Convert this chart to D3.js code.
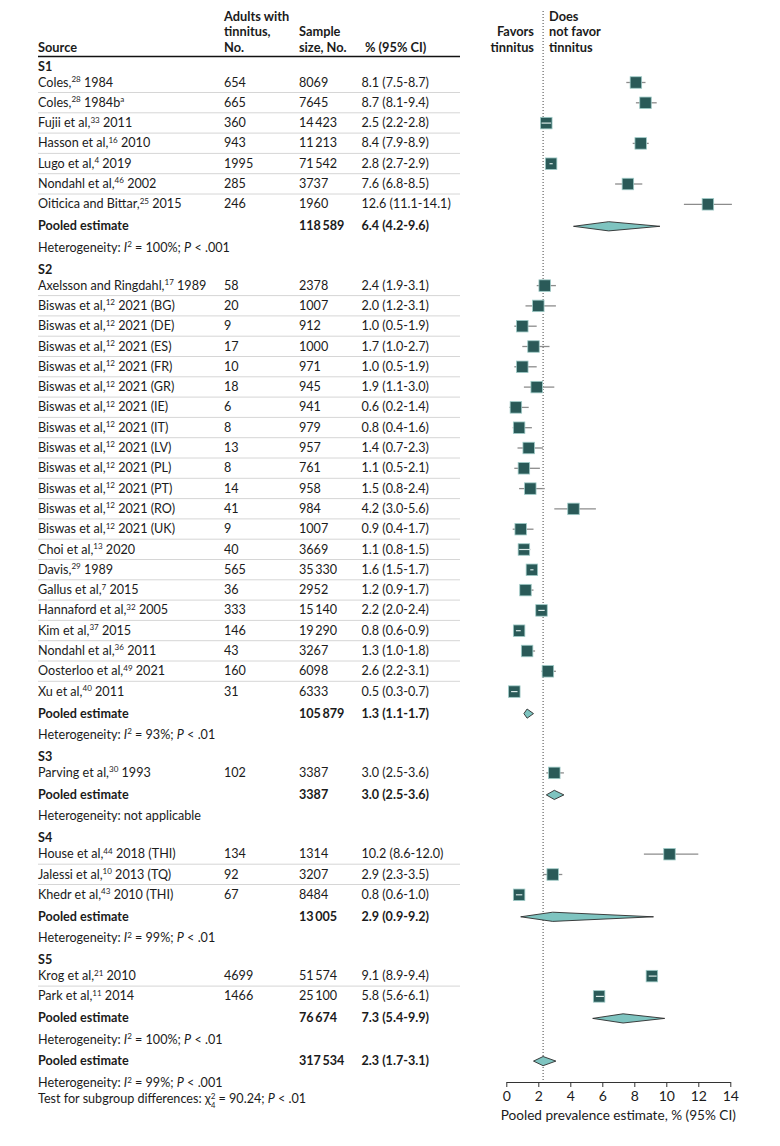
<!DOCTYPE html>
<html>
<head>
<meta charset="utf-8">
<script src="https://cdn.jsdelivr.net/npm/d3@7"></script>
<style>
  body { margin: 0; background: #fff; }
  svg { font-family: Lato, "Open Sans", sans-serif; }
</style>
</head>
<body>
<svg id="forest_svg" width="780" height="1146"></svg>
<script>
// Subgroups and studies (^..^ = superscript, *..* = italic)
const groups = ['S1', 'S2', 'S3', 'S4', 'S5'];

const studyGroups = [
  'S1', 'S1', 'S1', 'S1', 'S1', 'S1', 'S1',
  'S2', 'S2', 'S2', 'S2', 'S2', 'S2', 'S2', 'S2', 'S2', 'S2', 'S2', 'S2', 'S2',
  'S2', 'S2', 'S2', 'S2', 'S2', 'S2', 'S2', 'S2',
  'S3',
  'S4', 'S4', 'S4',
  'S5', 'S5'
];
const sources = [
  'Coles,^28^ 1984', 'Coles,^28^ 1984b^a^', 'Fujii et al,^33^ 2011', 'Hasson et al,^16^ 2010',
  'Lugo et al,^4^ 2019', 'Nondahl et al,^46^ 2002', 'Oiticica and Bittar,^25^ 2015',
  'Axelsson and Ringdahl,^17^ 1989', 'Biswas et al,^12^ 2021 (BG)', 'Biswas et al,^12^ 2021 (DE)',
  'Biswas et al,^12^ 2021 (ES)', 'Biswas et al,^12^ 2021 (FR)', 'Biswas et al,^12^ 2021 (GR)',
  'Biswas et al,^12^ 2021 (IE)', 'Biswas et al,^12^ 2021 (IT)', 'Biswas et al,^12^ 2021 (LV)',
  'Biswas et al,^12^ 2021 (PL)', 'Biswas et al,^12^ 2021 (PT)', 'Biswas et al,^12^ 2021 (RO)',
  'Biswas et al,^12^ 2021 (UK)', 'Choi et al,^13^ 2020', 'Davis,^29^ 1989', 'Gallus et al,^7^ 2015',
  'Hannaford et al,^32^ 2005', 'Kim et al,^37^ 2015', 'Nondahl et al,^36^ 2011',
  'Oosterloo et al,^49^ 2021', 'Xu et al,^40^ 2011',
  'Parving et al,^30^ 1993',
  'House et al,^44^ 2018 (THI)', 'Jalessi et al,^10^ 2013 (TQ)', 'Khedr et al,^43^ 2010 (THI)',
  'Krog et al,^21^ 2010', 'Park et al,^11^ 2014'
];
const withTinnitus = [654, 665, 360, 943, 1995, 285, 246,
  58, 20, 9, 17, 10, 18, 6, 8, 13, 8, 14, 41, 9, 40, 565, 36, 333, 146, 43, 160, 31,
  102, 134, 92, 67, 4699, 1466];
const sampleSizes = [8069, 7645, 14423, 11213, 71542, 3737, 1960,
  2378, 1007, 912, 1000, 971, 945, 941, 979, 957, 761, 958, 984, 1007, 3669, 35330, 2952,
  15140, 19290, 3267, 6098, 6333,
  3387, 1314, 3207, 8484, 51574, 25100];
const prevalence = [8.1, 8.7, 2.5, 8.4, 2.8, 7.6, 12.6,
  2.4, 2.0, 1.0, 1.7, 1.0, 1.9, 0.6, 0.8, 1.4, 1.1, 1.5, 4.2, 0.9, 1.1, 1.6, 1.2, 2.2, 0.8, 1.3, 2.6, 0.5,
  3.0, 10.2, 2.9, 0.8, 9.1, 5.8];
const ciLow = [7.5, 8.1, 2.2, 7.9, 2.7, 6.8, 11.1,
  1.9, 1.2, 0.5, 1.0, 0.5, 1.1, 0.2, 0.4, 0.7, 0.5, 0.8, 3.0, 0.4, 0.8, 1.5, 0.9, 2.0, 0.6, 1.0, 2.2, 0.3,
  2.5, 8.6, 2.3, 0.6, 8.9, 5.6];
const ciHigh = [8.7, 9.4, 2.8, 8.9, 2.9, 8.5, 14.1,
  3.1, 3.1, 1.9, 2.7, 1.9, 3.0, 1.4, 1.6, 2.3, 2.1, 2.4, 5.6, 1.7, 1.5, 1.7, 1.7, 2.4, 0.9, 1.8, 3.1, 0.7,
  3.6, 12.0, 3.5, 1.0, 9.4, 6.1];

// Pooled estimates per subgroup, then overall
const pooledSizes = [118589, 105879, 3387, 13005, 76674];
const pooledEst = [6.4, 1.3, 3.0, 2.9, 7.3];
const pooledLow = [4.2, 1.1, 2.5, 0.9, 5.4];
const pooledHigh = [9.6, 1.7, 3.6, 9.2, 9.9];
const heterogeneity = [
  'Heterogeneity: *I*^2^ = 100%; *P* < .001',
  'Heterogeneity: *I*^2^ = 93%; *P* < .01',
  'Heterogeneity: not applicable',
  'Heterogeneity: *I*^2^ = 99%; *P* < .01',
  'Heterogeneity: *I*^2^ = 100%; *P* < .01'
];
const overallSize = 317534;
const overallEst = 2.3;
const overallLow = 1.7;
const overallHigh = 3.1;
const overallHet = 'Heterogeneity: *I*^2^ = 99%; *P* < .001';
const subgroupTest = 'Test for subgroup differences: χ^2^_4_ = 90.24; *P* < .01';
const xTicks = [0, 2, 4, 6, 8, 10, 12, 14];

// Layout
const svg = d3.select('#forest_svg');
const col = { source: 38, cases: 224, size: 299, ci: 361.5, right: 460 };
const step = 20.3;
const axisY = 1082;
const textColor = '#1b1b1b';
const squareSize = 11.5;
const bodySize = 12.6;

const xScale = d3.scaleLinear().domain([0, 14]).range([506.3, 730.3]);

const fmtN = n => n >= 10000 ? d3.format(',')(n).replace(',', '\u2009') : String(n);
const fmtCI = (e, l, h) => `${e.toFixed(1)} (${l.toFixed(1)}-${h.toFixed(1)})`;

// minimal rich text: ^sup^, _sub_ (stacked under previous sup), *italic*
function richText(sel, str, size) {
  const parts = str.split(/(\^[^^]*\^|_[^_]*_|\*[^*]*\*)/).filter(p => p.length);
  let shift = 0;
  parts.forEach(p => {
    let t = sel.append('tspan');
    let target = 0;
    if (p[0] === '^') {
      target = -size * 0.36;
      t.text(p.slice(1, -1)).style('font-size', (size * 0.64) + 'px');
    } else if (p[0] === '_') {
      target = size * 0.4;
      t.text(p.slice(1, -1)).style('font-size', (size * 0.6) + 'px').attr('dx', -size * 0.36);
    } else if (p[0] === '*') {
      t.text(p.slice(1, -1)).style('font-style', 'italic');
    } else {
      t.text(p);
    }
    if (target !== shift) t.attr('dy', target - shift);
    shift = target;
  });
}

function addText(x, y, str, opts = {}) {
  const size = opts.size || bodySize;
  const t = svg.append('text')
    .attr('x', x).attr('y', y)
    .style('font-size', size + 'px')
    .style('fill', textColor)
    .style('font-weight', opts.weight || 400)
    .attr('text-anchor', opts.anchor || 'start');
  richText(t, str, size);
  return t;
}

// Build row list
const rows = [];
let y = 70.5;
groups.forEach((gname, gi) => {
  if (gi > 0) y += 22;
  rows.push({ type: 'label', y, gi });
  const idx = d3.range(sources.length).filter(i => studyGroups[i] === gname);
  idx.forEach((i, k) => {
    y += k === 0 ? 16 : step;
    rows.push({ type: 'study', y, i, last: k === idx.length - 1 });
  });
  y += 22;
  rows.push({ type: 'pooled', y, gi });
  y += 21.3;
  rows.push({ type: 'het', y, gi });
});
y += 21.4;
rows.push({ type: 'overall', y });
y += 22.3;
rows.push({ type: 'overallHet', y });
y += 15.7;
rows.push({ type: 'test', y });

// Header
const hdr = { size: 12.8, weight: 700 };
addText(col.source, 51.7, 'Source', hdr);
['Adults with', 'tinnitus,', 'No.'].forEach((s, i) => addText(col.cases, 21 + i * 15.3, s, hdr));
['Sample', 'size, No.'].forEach((s, i) => addText(col.size, 36.3 + i * 15.3, s, hdr));
addText(col.ci + 3.5, 51.7, '% (95% CI)', hdr);
['Favors', 'tinnitus'].forEach((s, i) => addText(534, 36.3 + i * 15.3, s, { ...hdr, anchor: 'end' }));
['Does', 'not favor', 'tinnitus'].forEach((s, i) => addText(549, 21 + i * 15.3, s, hdr));

svg.append('line')
  .attr('x1', col.source).attr('x2', col.right)
  .attr('y1', 56.5).attr('y2', 56.5)
  .style('stroke', '#111').style('stroke-width', 1.5);

// Null / overall reference line
svg.append('line')
  .attr('x1', xScale(overallEst)).attr('x2', xScale(overallEst))
  .attr('y1', 11).attr('y2', axisY)
  .style('stroke', '#444').style('stroke-width', 1)
  .style('stroke-dasharray', '1,2');

// Table rows
const plotG = svg.append('g');

function diamond(yc, e, l, h) {
  const hh = 4.6;
  plotG.append('polygon')
    .attr('points', [[xScale(l), yc], [xScale(e), yc - hh], [xScale(h), yc], [xScale(e), yc + hh]].join(' '))
    .style('fill', '#7ec4c0')
    .style('stroke', '#2d2d2d')
    .style('stroke-width', 0.9);
}

rows.forEach(r => {
  const yc = r.y - 4;
  if (r.type === 'label') {
    addText(col.source, r.y, groups[r.gi], { weight: 700 });
  } else if (r.type === 'study') {
    const i = r.i;
    addText(col.source, r.y, sources[i]);
    addText(col.cases, r.y, String(withTinnitus[i]));
    addText(col.size, r.y, fmtN(sampleSizes[i]));
    addText(col.ci, r.y, fmtCI(prevalence[i], ciLow[i], ciHigh[i]));
    if (!r.last) {
      svg.append('line')
        .attr('x1', col.source).attr('x2', col.right)
        .attr('y1', r.y + 6).attr('y2', r.y + 6)
        .style('stroke', '#d6d6d6').style('stroke-width', 1);
    }
    const x0 = xScale(ciLow[i]), x1 = xScale(ciHigh[i]), xc = xScale(prevalence[i]);
    plotG.append('line')
      .attr('x1', x0).attr('x2', x1).attr('y1', yc).attr('y2', yc)
      .style('stroke', '#8c8c8c').style('stroke-width', 1.3);
    plotG.append('rect')
      .attr('x', xc - squareSize / 2).attr('y', yc - squareSize / 2)
      .attr('width', squareSize).attr('height', squareSize)
      .style('fill', '#2a5a58')
      .style('stroke', '#9fcbc7').style('stroke-width', 0.8);
    if (x1 - x0 < squareSize) {
      plotG.append('line')
        .attr('x1', x0).attr('x2', x1).attr('y1', yc).attr('y2', yc)
        .style('stroke', '#d9e9e7').style('stroke-width', 1.2);
    }
  } else if (r.type === 'pooled') {
    const g = r.gi;
    addText(col.source, r.y, 'Pooled estimate', { weight: 700 });
    addText(col.size, r.y, fmtN(pooledSizes[g]), { weight: 700 });
    addText(col.ci, r.y, fmtCI(pooledEst[g], pooledLow[g], pooledHigh[g]), { weight: 700 });
    diamond(yc, pooledEst[g], pooledLow[g], pooledHigh[g]);
  } else if (r.type === 'het') {
    addText(col.source, r.y, heterogeneity[r.gi]);
  } else if (r.type === 'overall') {
    addText(col.source, r.y, 'Pooled estimate', { weight: 700 });
    addText(col.size, r.y, fmtN(overallSize), { weight: 700 });
    addText(col.ci, r.y, fmtCI(overallEst, overallLow, overallHigh), { weight: 700 });
    diamond(yc, overallEst, overallLow, overallHigh);
  } else if (r.type === 'overallHet') {
    addText(col.source, r.y, overallHet);
  } else if (r.type === 'test') {
    addText(col.source, r.y, subgroupTest);
  }
});

// X axis
const axisG = svg.append('g')
  .attr('transform', `translate(0,${axisY})`)
  .call(d3.axisBottom(xScale).tickValues(xTicks).tickSize(5).tickSizeOuter(0).tickPadding(4));
axisG.select('.domain').style('stroke', '#333');
axisG.selectAll('.tick line').style('stroke', '#333');
axisG.selectAll('.tick text')
  .style('font-family', 'Lato, sans-serif')
  .style('font-size', '14px')
  .style('fill', textColor);

svg.append('text')
  .attr('x', xScale(7)).attr('y', 1120)
  .attr('text-anchor', 'middle')
  .style('font-size', '13.6px')
  .style('fill', textColor)
  .text('Pooled prevalence estimate, % (95% CI)');
</script>
</body>
</html>
